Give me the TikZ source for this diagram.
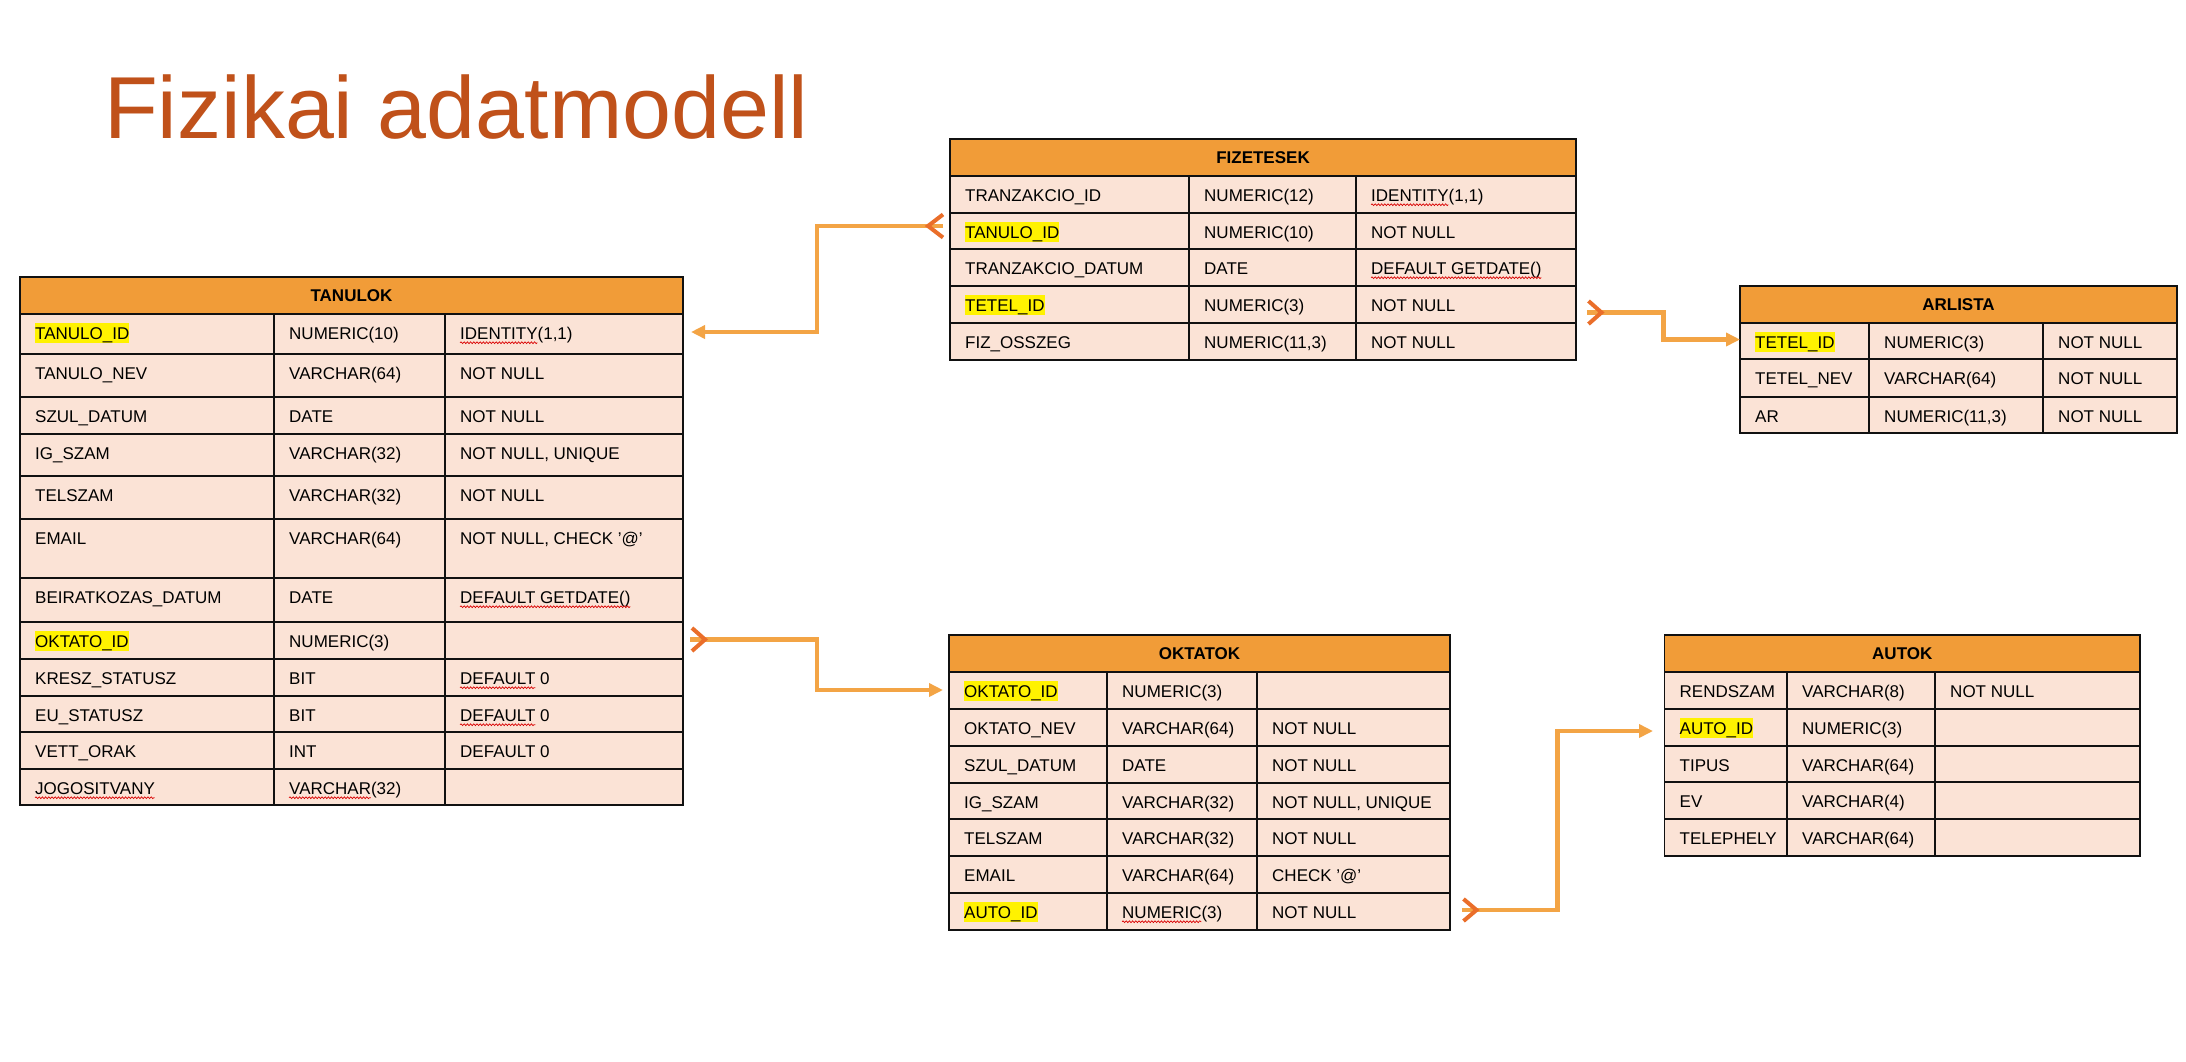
\documentclass[tikz,border=0pt]{standalone}
\usepackage{fontspec}
\setmainfont{Liberation Sans}
\usetikzlibrary{arrows.meta,decorations.pathmorphing}
\definecolor{hdrc}{HTML}{F19C38}
\definecolor{cellc}{HTML}{FBE3D6}
\definecolor{titlec}{HTML}{C0511A}
\definecolor{linkc}{HTML}{F3A445}
\definecolor{crowc}{HTML}{EA6E2A}
\definecolor{gridc}{HTML}{111111}
\tikzset{
  grid/.style={draw=gridc, line width=1.7pt},
  hdr/.style={font=\fontsize{17}{20}\selectfont\bfseries, inner sep=0pt},
  cell/.style={anchor=base west, inner sep=0pt, text height=17pt, text depth=3pt},
  link/.style={draw=linkc, line width=4.3pt, -{Triangle[length=14pt,width=13pt]}},
  many/.style={draw=crowc, line width=4pt},
  sqwave/.style={draw=red!85!black, line width=0.7pt, decorate, decoration={snake, segment length=3.2pt, amplitude=0.9pt}},
  titlestyle/.style={font=\fontsize{88}{100}\selectfont, text=titlec, inner sep=0pt, anchor=base west}
}
\newcommand\dbframe[2]{%
  \fill[hdrc] (\xa,\ya) rectangle (\xd,\yb);
  \fill[cellc] (\xa,\yb) rectangle (\xd,\yz);
  \node[hdr] (#1) at ({(\xa+\xd)/2},{(\ya+\yb)/2}) {#2};
}
\newcommand\dbrows[2]{%
  \foreach \rowT/\rowB/\hlc/\colA/\colB/\colC [count=\i] in {#2} {
    \draw[grid] (\xa,\rowB) -- (\xd,\rowB);
    \node[cell,fill=\hlc] (#1-\i-a) at (\xa+15,\rowT+25.5) {\colA};
    \node[cell] (#1-\i-b) at (\xb+15,\rowT+25.5) {\colB};
    \node[cell] (#1-\i-c) at (\xc+15,\rowT+25.5) {\colC};
  }
}
\newcommand\dblines{%
  \draw[grid] (\xb,\yb) -- (\xb,\yz) (\xc,\yb) -- (\xc,\yz) (\xa,\yb) -- (\xd,\yb);
  \draw[grid] (\xa,\ya) rectangle (\xd,\yz);
}
\newcommand\wave[2]{%
  \pgfmathwidth{"#2"}\let\wavelen\pgfmathresult
  \draw[sqwave] ([yshift=-3.2pt]#1.base west) -- ++(\wavelen,0);
}
\begin{document}
\fontsize{17}{20}\selectfont
\begin{tikzpicture}[x=1pt,y=-1pt,font=\fontsize{17}{20}\selectfont]
\fill[white] (0,0) rectangle (2186,1061);
\useasboundingbox (0,0) rectangle (2186,1061);

\node[titlestyle] (title) at (104,138) {Fizikai adatmodell};

% TANULOK
\def\xa{20}\def\xb{274}\def\xc{445}\def\xd{683}\def\ya{277}\def\yb{314}\def\yz{805}
\dbframe{tanulok}{TANULOK}
\dbrows{tan}{%
  314/354/yellow/{TANULO\_ID}/NUMERIC(10)/{IDENTITY(1,1)},
  354/397/none/{TANULO\_NEV}/VARCHAR(64)/NOT NULL,
  397/434/none/{SZUL\_DATUM}/DATE/NOT NULL,
  434/476/none/{IG\_SZAM}/VARCHAR(32)/{NOT NULL, UNIQUE},
  476/519/none/TELSZAM/VARCHAR(32)/NOT NULL,
  519/578/none/EMAIL/VARCHAR(64)/{NOT NULL, CHECK ’@’},
  578/622/none/{BEIRATKOZAS\_DATUM}/DATE/{DEFAULT GETDATE()},
  622/659/yellow/{OKTATO\_ID}/NUMERIC(3)/{},
  659/696/none/{KRESZ\_STATUSZ}/BIT/{DEFAULT 0},
  696/732/none/{EU\_STATUSZ}/BIT/{DEFAULT 0},
  732/769/none/{VETT\_ORAK}/INT/DEFAULT 0,
  769/805/none/JOGOSITVANY/VARCHAR(32)/{}}
\dblines
\wave{tan-1-c}{IDENTITY}
\wave{tan-7-c}{DEFAULT GETDATE()}
\wave{tan-9-c}{DEFAULT}
\wave{tan-10-c}{DEFAULT}
\wave{tan-12-a}{JOGOSITVANY}
\wave{tan-12-b}{VARCHAR}

% FIZETESEK
\def\xa{950}\def\xb{1189}\def\xc{1356}\def\xd{1576}\def\ya{139}\def\yb{176}\def\yz{360}
\dbframe{fizetesek}{FIZETESEK}
\dbrows{fiz}{%
  176/213/none/{TRANZAKCIO\_ID}/NUMERIC(12)/{IDENTITY(1,1)},
  213/249/yellow/{TANULO\_ID}/NUMERIC(10)/NOT NULL,
  249/286/none/{TRANZAKCIO\_DATUM}/DATE/{DEFAULT GETDATE()},
  286/323/yellow/{TETEL\_ID}/NUMERIC(3)/NOT NULL,
  323/360/none/{FIZ\_OSSZEG}/{NUMERIC(11,3)}/NOT NULL}
\dblines
\wave{fiz-1-c}{IDENTITY}
\wave{fiz-3-c}{DEFAULT GETDATE()}

% ARLISTA
\def\xa{1740}\def\xb{1869}\def\xc{2043}\def\xd{2177}\def\ya{286}\def\yb{323}\def\yz{433}
\dbframe{arlista}{ARLISTA}
\dbrows{arl}{%
  323/359/yellow/{TETEL\_ID}/NUMERIC(3)/NOT NULL,
  359/397/none/{TETEL\_NEV}/VARCHAR(64)/NOT NULL,
  397/433/none/AR/{NUMERIC(11,3)}/NOT NULL}
\dblines

% OKTATOK
\def\xa{949}\def\xb{1107}\def\xc{1257}\def\xd{1450}\def\ya{635}\def\yb{672}\def\yz{930}
\dbframe{oktatok}{OKTATOK}
\dbrows{okt}{%
  672/709/yellow/{OKTATO\_ID}/NUMERIC(3)/{},
  709/746/none/{OKTATO\_NEV}/VARCHAR(64)/NOT NULL,
  746/783/none/{SZUL\_DATUM}/DATE/NOT NULL,
  783/819/none/{IG\_SZAM}/VARCHAR(32)/{NOT NULL, UNIQUE},
  819/856/none/TELSZAM/VARCHAR(32)/NOT NULL,
  856/893/none/EMAIL/VARCHAR(64)/{CHECK ’@’},
  893/930/yellow/{AUTO\_ID}/NUMERIC(3)/NOT NULL}
\dblines
\wave{okt-7-b}{NUMERIC}

% AUTOK
\def\xa{1664.5}\def\xb{1787}\def\xc{1935}\def\xd{2140}\def\ya{635}\def\yb{672}\def\yz{856}
\dbframe{autok}{AUTOK}
\dbrows{aut}{%
  672/709/none/RENDSZAM/VARCHAR(8)/NOT NULL,
  709/746/yellow/{AUTO\_ID}/NUMERIC(3)/{},
  746/782/none/TIPUS/VARCHAR(64)/{},
  782/819/none/EV/VARCHAR(4)/{},
  819/856/none/TELEPHELY/VARCHAR(64)/{}}
\dblines

% connectors
\coordinate (c1s) at (943,226);  \coordinate (c1v) at (928,226);  \coordinate (c1e) at (691,332);
\coordinate (c2s) at (690,639.5); \coordinate (c2v) at (705,639.5); \coordinate (c2e) at (943,690);
\coordinate (c3s) at (1587,312.5); \coordinate (c3v) at (1601.5,312.5); \coordinate (c3e) at (1740,339.5);
\coordinate (c4s) at (1462,910); \coordinate (c4v) at (1476.5,910); \coordinate (c4e) at (1653,731);

\draw[link] (c1s) -- ++(-126,0) |- (c1e);
\draw[link] (c2s) -- ++(127,0) |- (c2e);
\draw[link] (c3s) -- ++(76.5,0) |- (c3e);
\draw[link] (c4s) -- ++(95.5,0) |- (c4e);

\draw[many] ([shift={(15,-11.5)}]c1v) -- (c1v) -- ([shift={(15,11.5)}]c1v);
\draw[many] ([shift={(-13,-11.5)}]c2v) -- (c2v) -- ([shift={(-13,11.5)}]c2v);
\draw[many] ([shift={(-13,-11.5)}]c3v) -- (c3v) -- ([shift={(-13,11.5)}]c3v);
\draw[many] ([shift={(-13,-11)}]c4v) -- (c4v) -- ([shift={(-13,11)}]c4v);
\end{tikzpicture}
\end{document}
